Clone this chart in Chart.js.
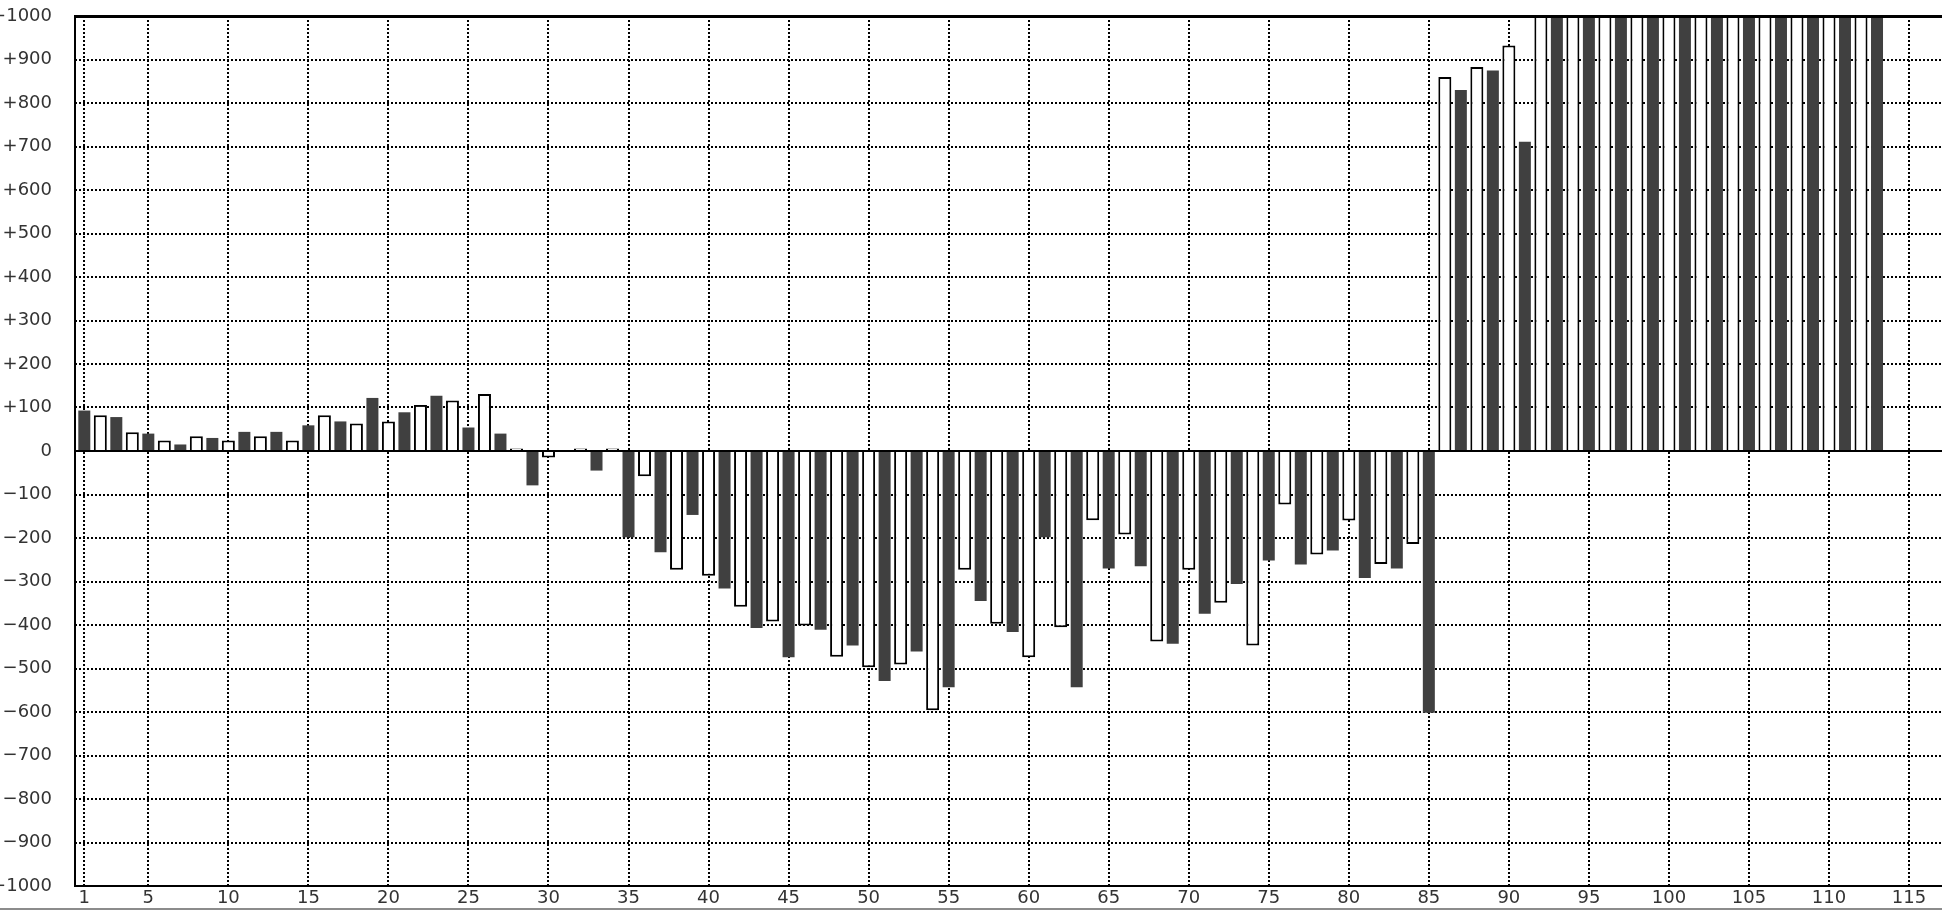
<!DOCTYPE html>
<html>
<head>
<meta charset="utf-8">
<title>Bar chart</title>
<script src="https://cdn.jsdelivr.net/npm/chart.js@4.4.1/dist/chart.umd.min.js"></script>
<style>
  html, body { margin: 0; padding: 0; background: #fff; overflow: hidden; }
  #wrap { position: absolute; left: -9px; top: 0; width: 1951px; height: 908px; }
  #baseLine { position: absolute; left: 0; top: 908px; width: 1942px; height: 2px; background: #8c8c8c; }
</style>
</head>
<body>
<div id="wrap"><canvas id="chart" width="1951" height="908"></canvas></div>
<div id="baseLine"></div>
<script>
// ==============================
// Data
// ==============================
const xTicks = [1, 5, 10, 15, 20, 25, 30, 35, 40, 45, 50, 55, 60, 65, 70, 75, 80, 85, 90, 95, 100, 105, 110, 115];
const yTicks = [-1000, -900, -800, -700, -600, -500, -400, -300, -200, -100, 0, 100, 200, 300, 400, 500, 600, 700, 800, 900, 1000];

// odd positions 1, 3, 5 ... 113 (dark bars)
const darkValues = [
  93, 78, 40, 15, 30, 44, 44, 59, 68, 122,
  89, 127, 54, 40, -79, 0, -45, -198, -233, -147,
  -316, -407, -474, -411, -447, -529, -461, -543, -345, -416,
  -198, -543, -270, -265, -443, -374, -306, -252, -261, -229,
  -292, -270, -602, 830, 875, 711, 1000, 1000, 1000, 1000,
  1000, 1000, 1000, 1000, 1000, 1000, 1000
];

// even positions 2, 4, 6 ... 112 (white bars)
const lightValues = [
  82, 43, 24, 34, 24, 34, 24, 82, 63, 68,
  106, 116, 131, 6, -15, 6, 6, -58, -273, -287,
  -358, -392, -401, -473, -497, -491, -596, -273, -397, -474,
  -405, -159, -192, -438, -273, -349, -447, -123, -238, -160,
  -260, -214, 860, 883, 932, 1000, 1000, 1000, 1000, 1000,
  1000, 1000, 1000, 1000, 1000, 1000
];

const darkPoints = darkValues.map((v, i) => ({ x: 2 * i + 1, y: v }));
const lightPoints = lightValues.map((v, i) => ({ x: 2 * i + 2, y: v }));

const FONT = { family: "'DejaVu Sans', sans-serif", size: 18 };

function fmtY(v) {
  if (v > 0) return "+" + v;
  if (v < 0) return "\u2212" + Math.abs(v);
  return "0";
}

// ==============================
// Frame: left, top, bottom axis and the zero line
// ==============================
const framePlugin = {
  id: "frame",
  afterDatasetsDraw(chart) {
    const { ctx, chartArea: a, scales } = chart;
    const y0 = Math.round(scales.y.getPixelForValue(0));
    ctx.save();
    ctx.strokeStyle = "#000";
    ctx.setLineDash([]);
    // top edge a bit heavier so it covers the dotted grid line and clipped bar ends
    ctx.lineWidth = 3;
    ctx.beginPath();
    ctx.moveTo(a.left, a.top + 0.5); ctx.lineTo(a.right, a.top + 0.5);
    ctx.stroke();
    ctx.lineWidth = 2;
    ctx.beginPath();
    ctx.moveTo(a.left, a.bottom); ctx.lineTo(a.right, a.bottom);
    ctx.moveTo(a.left, y0); ctx.lineTo(a.right, y0);
    ctx.moveTo(a.left, a.top - 1); ctx.lineTo(a.left, a.bottom + 1);
    ctx.stroke();
    ctx.restore();
  }
};

new Chart(document.getElementById("chart"), {
  type: "bar",
  data: {
    datasets: [
      {
        label: "dark",
        data: darkPoints,
        backgroundColor: "#404040",
        borderWidth: 0,
        grouped: false,
        barPercentage: 0.75,
        categoryPercentage: 1
      },
      {
        label: "light",
        data: lightPoints,
        backgroundColor: "#ffffff",
        borderColor: "#000000",
        borderWidth: 2,
        grouped: false,
        barPercentage: 0.8125,
        categoryPercentage: 1,
        // bars that run off the top have no visible cap
        clip: { left: 0, top: -2, right: 0, bottom: 0 }
      }
    ]
  },
  options: {
    responsive: false,
    devicePixelRatio: 1,
    animation: false,
    layout: { padding: { top: 16, right: 0, bottom: 0, left: 0 } },
    plugins: { legend: { display: false }, tooltip: { enabled: false } },
    scales: {
      x: {
        type: "linear",
        offset: false,
        min: 0.419,
        max: 117.06,
        afterBuildTicks: s => { s.ticks = xTicks.map(v => ({ value: v })); },
        afterFit: s => { s.height = 22; s.paddingLeft = 0; s.paddingRight = 0; },
        ticks: { autoSkip: false, maxRotation: 0, padding: 2, color: "#333", font: FONT },
        grid: { offset: false, color: "#000", lineWidth: 2, drawTicks: false },
        border: { display: false, dash: [2, 2] }
      },
      y: {
        min: -1000,
        max: 1000,
        afterBuildTicks: s => { s.ticks = yTicks.map(v => ({ value: v })); },
        afterFit: s => { s.width = 84; s.paddingTop = 0; s.paddingBottom = 0; },
        ticks: { padding: 23, color: "#333", font: FONT, callback: v => fmtY(v) },
        grid: { color: "#000", lineWidth: 2, drawTicks: false },
        border: { display: false, dash: [2, 2] }
      }
    }
  },
  plugins: [framePlugin]
});
</script>
</body>
</html>
